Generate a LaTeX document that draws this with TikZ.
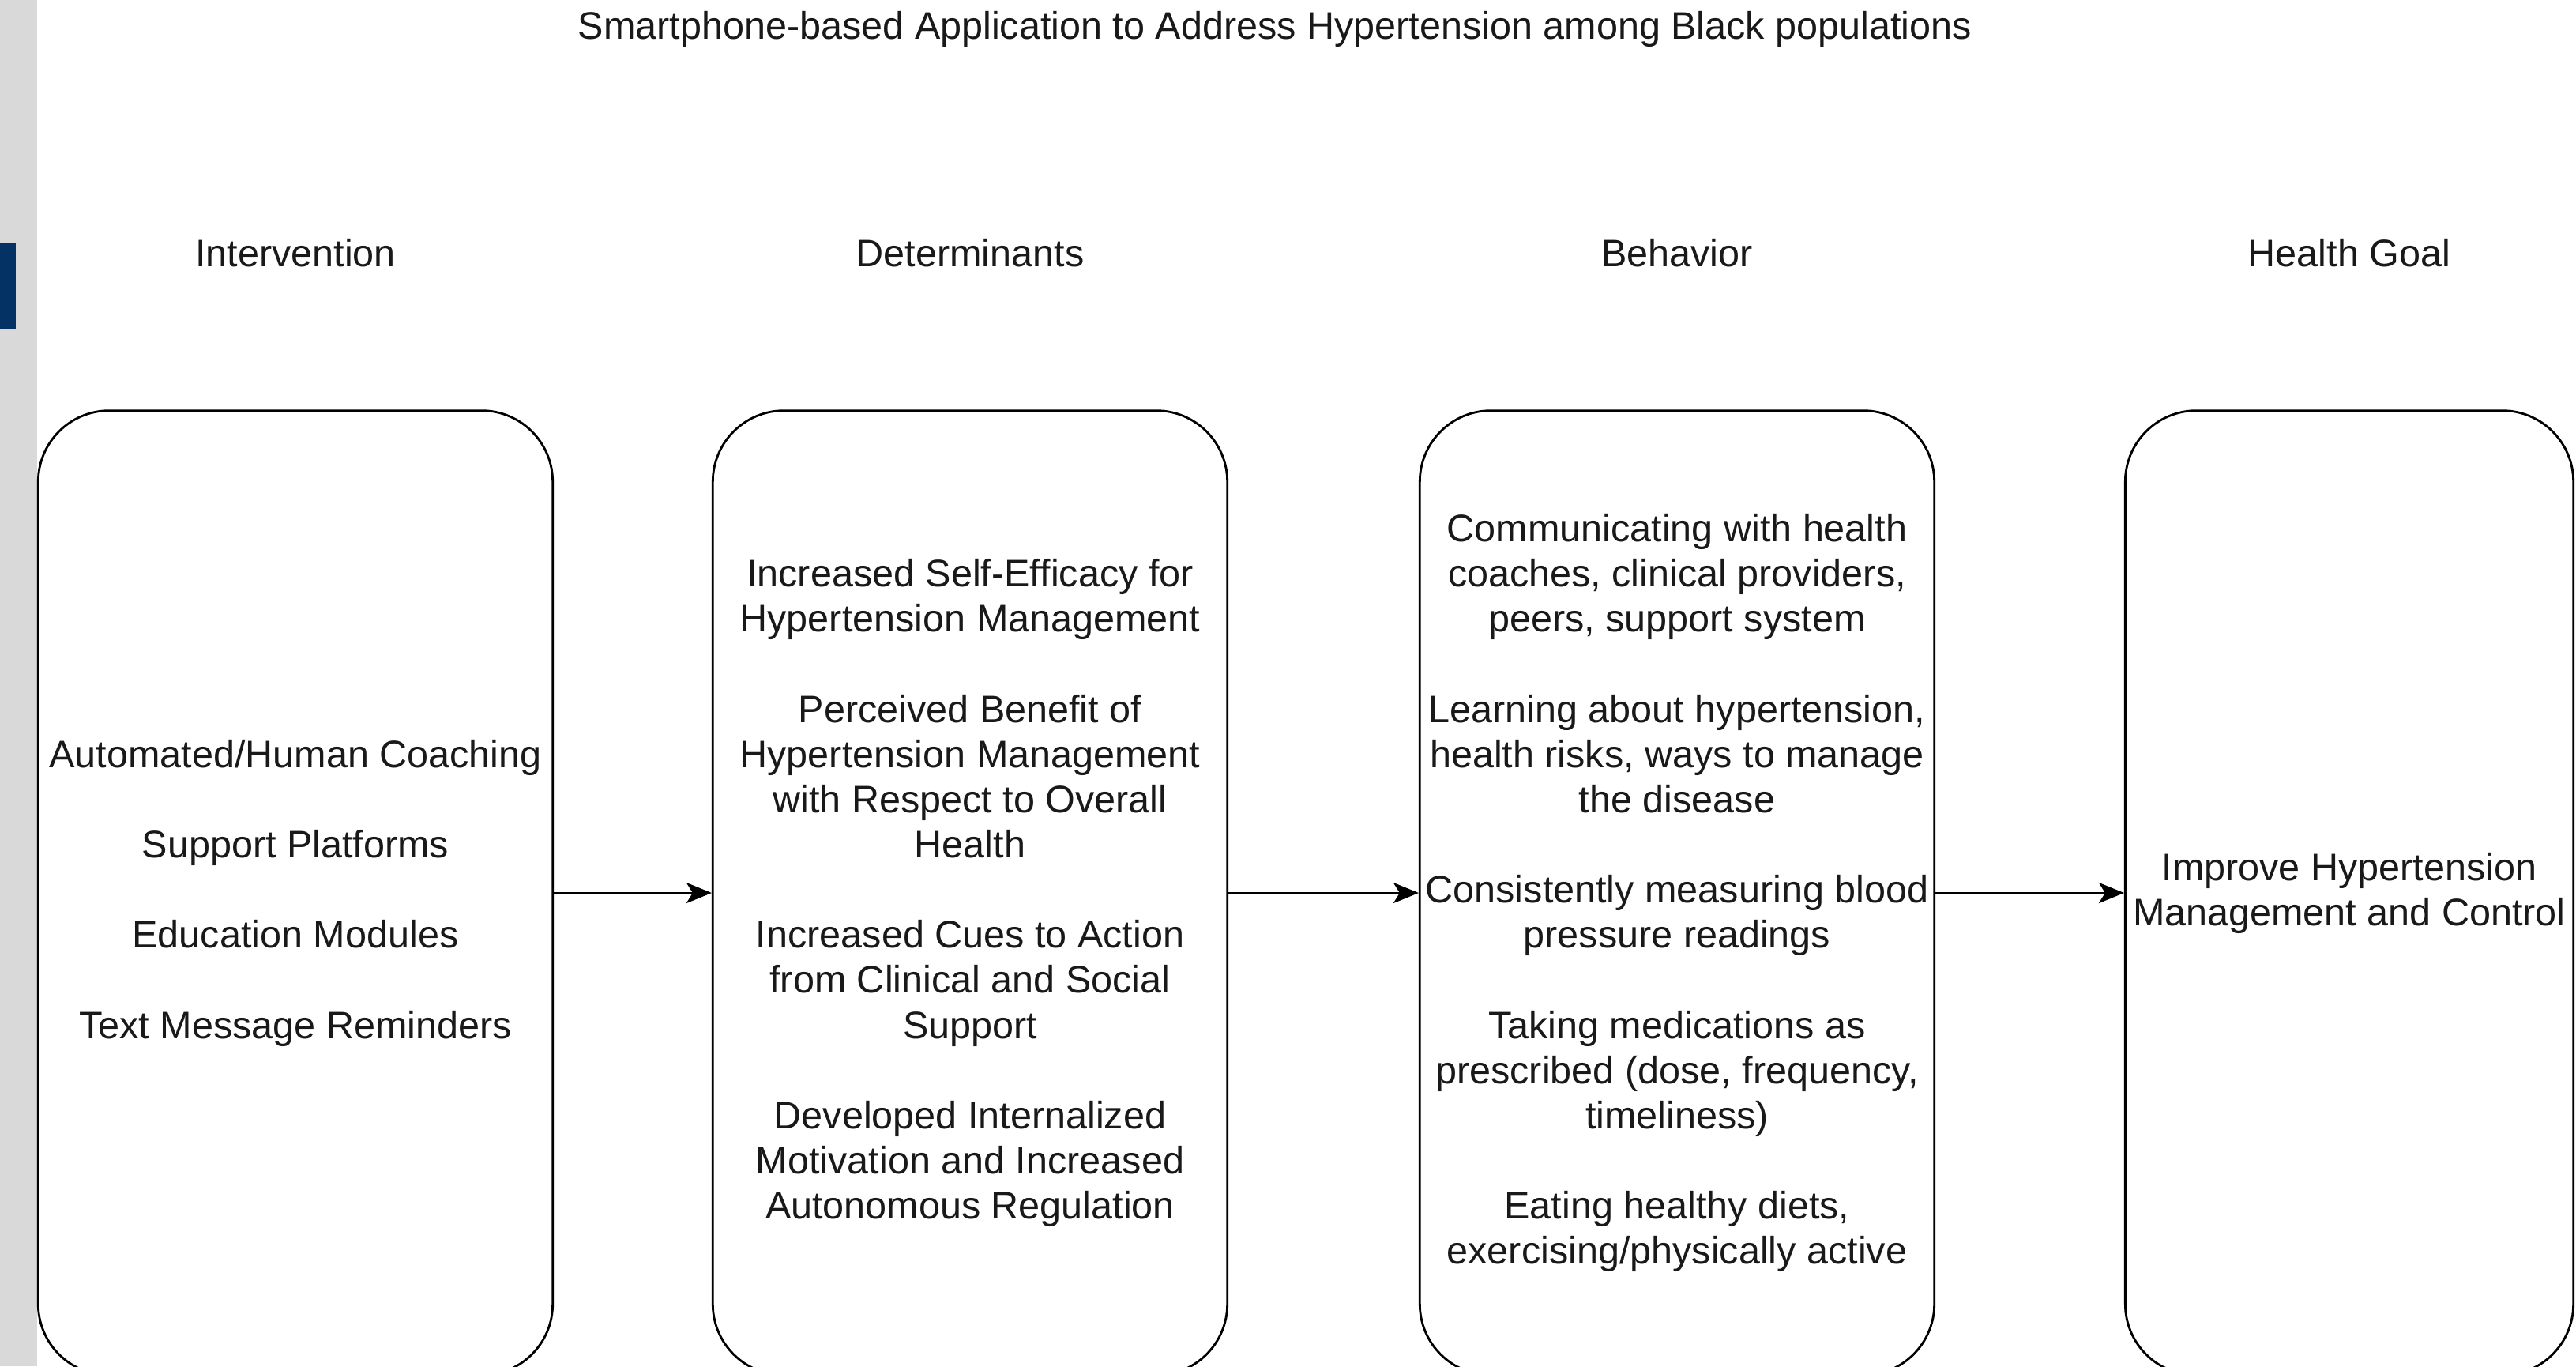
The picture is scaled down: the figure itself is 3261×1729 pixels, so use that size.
\documentclass[tikz,border=0pt]{standalone}
\usepackage{fontspec}
\setmainfont{Liberation Sans}
\usetikzlibrary{arrows.meta}
\definecolor{stripgray}{RGB}{217,217,217}
\definecolor{markblue}{RGB}{4,50,100}
\definecolor{txt}{RGB}{25,25,25}
\begin{document}
\begin{tikzpicture}[x=0.01cm,y=-0.01cm,
  txtfont/.style={font=\fontsize{13.8pt}{16.25pt}\selectfont, text=txt},
  label/.style={txtfont, inner sep=0pt, align=center},
  stagebox/.style={draw=black, line width=0.8pt, rounded corners=0.9cm,
    minimum height=12.2cm, inner sep=0pt, align=center, txtfont},
  arr/.style={line width=0.85pt, -{Stealth[length=0.32cm,width=0.26cm,inset=0.08cm]}}]
\useasboundingbox (0,0) rectangle (3261,1729);
\clip (0,0) rectangle (3261,1729);
\fill[white] (0,0) rectangle (3261,1729);
\fill[stripgray] (0,0) rectangle (47,1729);
\fill[markblue] (0,308) rectangle (20,416);

\node[label] (title) at (1614,37) {Smartphone-based Application to Address Hypertension among Black populations};

\node[label] (h1) at (374,320) {Intervention};
\node[label] (h2) at (1228,320) {Determinants};
\node[label] (h3) at (2123,320) {Behavior};
\node[label] (h4) at (2974,320) {Health Goal};

\node[stagebox, minimum width=6.51cm] (b1) at (374,1130) {Automated/Human Coaching\\[16.25pt]Support Platforms\\[16.25pt]Education Modules\\[16.25pt]Text Message Reminders};
\node[stagebox, minimum width=6.51cm] (b2) at (1228,1130) {Increased Self-Efficacy for\\Hypertension Management\\[16.25pt]Perceived Benefit of\\Hypertension Management\\with Respect to Overall\\Health\\[16.25pt]Increased Cues to Action\\from Clinical and Social\\Support\\[16.25pt]Developed Internalized\\Motivation and Increased\\Autonomous Regulation};
\node[stagebox, minimum width=6.51cm] (b3) at (2123,1130) {Communicating with health\\coaches, clinical providers,\\peers, support system\\[16.25pt]Learning about hypertension,\\health risks, ways to manage\\the disease\\[16.25pt]Consistently measuring blood\\pressure readings\\[16.25pt]Taking medications as\\prescribed (dose, frequency,\\timeliness)\\[16.25pt]Eating healthy diets,\\exercising/physically active};
\node[stagebox, minimum width=5.67cm] (b4) at (2974,1130) {Improve Hypertension\\Management and Control};

\draw[arr] (b1.east) -- (b2.west);
\draw[arr] (b2.east) -- (b3.west);
\draw[arr] (b3.east) -- (b4.west);
\end{tikzpicture}
\end{document}
